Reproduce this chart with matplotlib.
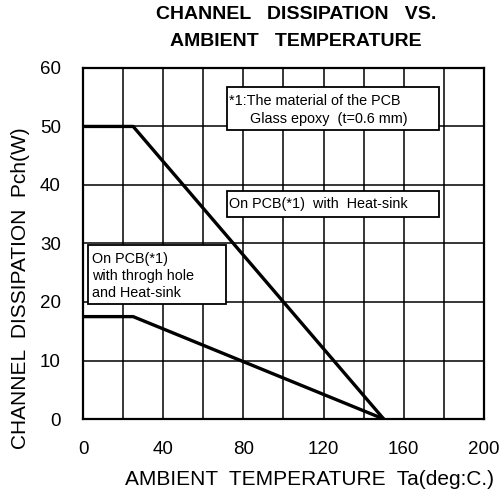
import matplotlib.pyplot as plt
from matplotlib.patches import Rectangle

plt.rcParams['font.family'] = ['Liberation Sans', 'DejaVu Sans']

# derating curves: (Ta, Pch)
ta_hs = [0, 25, 150]
pch_hs = [50, 50, 0]
ta_th = [0, 25, 150]
pch_th = [17.5, 17.5, 0]

xticks = list(range(0, 201, 20))
xlabels = [str(t) if t % 40 == 0 else '' for t in xticks]
yticks = list(range(0, 61, 10))

fig = plt.figure(figsize=(5.01, 4.98), dpi=100)
ax = fig.add_axes([0.1657, 0.1586, 0.8003, 0.705])

ax.plot(ta_hs, pch_hs, color='black', lw=2.4, zorder=3, solid_capstyle='butt')
ax.plot(ta_th, pch_th, color='black', lw=2.4, zorder=3, solid_capstyle='butt')

ax.set_xlim(0, 200)
ax.set_ylim(0, 60)
ax.set_xticks(xticks)
ax.set_xticklabels(xlabels)
ax.set_yticks(yticks)
ax.grid(True, color='black', lw=1.1)
ax.set_axisbelow(True)
ax.tick_params(length=0, labelsize=13.5)
ax.tick_params(axis='x', pad=16)
ax.tick_params(axis='y', pad=16)
for s in ax.spines.values():
    s.set_linewidth(1.6)

# title, two lines
fig.text(0.591, 0.970, 'CHANNEL   DISSIPATION   VS.', fontsize=14,
         fontweight='bold', ha='center', va='center')
fig.text(0.591, 0.916, 'AMBIENT   TEMPERATURE', fontsize=14,
         fontweight='bold', ha='center', va='center')

ax.set_xlabel('AMBIENT  TEMPERATURE  Ta(deg:C.)', fontsize=15)
ax.xaxis.set_label_coords(0.566, -0.171)
ax.set_ylabel('CHANNEL  DISSIPATION  Pch(W)', fontsize=15)
ax.yaxis.set_label_coords(-0.155, 0.373)
ax.xaxis.label.set_va('center')
ax.yaxis.label.set_va('center')

# note boxes
boxes = [
    ((71.8, 49.4), 105.8, 7.4),
    ((71.8, 34.5), 105.8, 4.5),
    ((2.5, 19.7), 68.8, 10.0),
]
for (x0, y0), w, h in boxes:
    ax.add_patch(Rectangle((x0, y0), w, h, facecolor='white', edgecolor='black',
                           lw=1.3, zorder=4))

fs = 10.4
ax.text(72.6, 54.3, '*1:The material of the PCB', fontsize=fs, va='center', zorder=5)
ax.text(83.5, 51.3, 'Glass epoxy  (t=0.6 mm)', fontsize=fs, va='center', zorder=5)
ax.text(72.6, 36.7, 'On PCB(*1)  with  Heat-sink', fontsize=fs, va='center', zorder=5)
ax.text(4.5, 27.4, 'On PCB(*1)', fontsize=fs, va='center', zorder=5)
ax.text(4.5, 24.4, 'with throgh hole', fontsize=fs, va='center', zorder=5)
ax.text(4.5, 21.6, 'and Heat-sink', fontsize=fs, va='center', zorder=5)

fig.savefig('out.png', dpi=100)
